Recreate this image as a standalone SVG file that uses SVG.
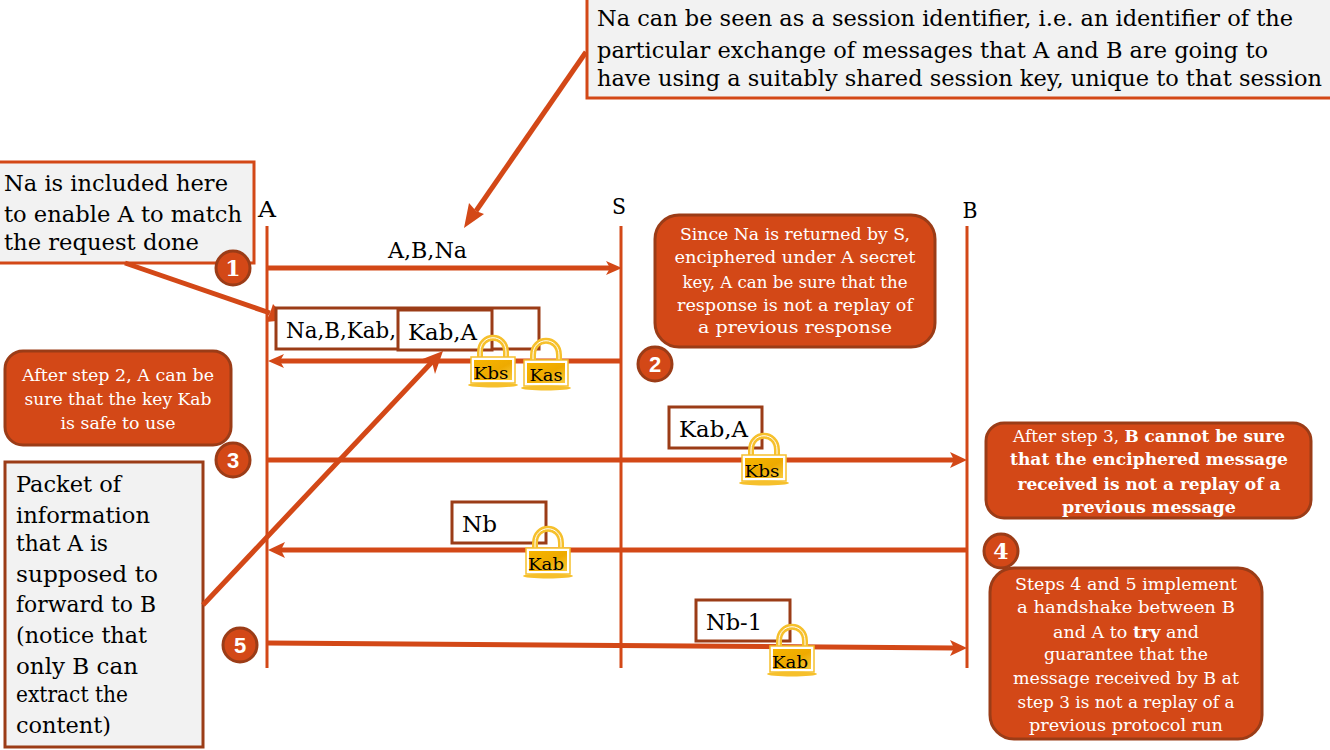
<svg xmlns="http://www.w3.org/2000/svg" width="1330" height="750" viewBox="0 0 1330 750">
<style>
text{font-family:"DejaVu Serif","Liberation Serif",serif;fill:#000}
.g{fill:#f2f2f2;stroke:#d34817;stroke-width:3}
.gd{fill:#f2f2f2;stroke:#9b3c17;stroke-width:3}
.o{fill:#d34817;stroke:#9b3c17;stroke-width:3}
.w{fill:#fff;font-size:17.5px;text-anchor:middle}
.b{font-weight:bold}
.t{font-size:22.5px}
.m{font-size:22px}
.n{fill:#fff;font-size:22px;text-anchor:middle;font-weight:bold}
.s{font-family:"Liberation Sans",sans-serif}
.pk{fill:#fff;stroke:#9b3c17;stroke-width:3}
.l{stroke:#d34817;stroke-width:3;fill:none}
.a{stroke:#d34817;stroke-width:5;fill:none}
.k{font-size:17px;text-anchor:middle}
.h{fill:#d34817}
</style>
<defs>
<linearGradient id="gold" x1="0" y1="0" x2="1" y2="1">
<stop offset="0" stop-color="#f7b500"/><stop offset="0.55" stop-color="#eeaa00"/><stop offset="1" stop-color="#f9c93a"/>
</linearGradient>
<g id="lock">
<path d="M-13 0V-10C-13 -29 13 -29 13 -10V0" fill="none" stroke="#f6c02c" stroke-width="6"/>
<path d="M-13 0V-10C-13 -29 13 -29 13 -10V0" fill="none" stroke="#fff" stroke-width="1"/>
<rect x="-22" y="-5" width="44" height="26" fill="#fff" stroke="#f6c02c" stroke-width="1.5"/>
<rect x="-19" y="-2" width="38" height="20" fill="url(#gold)"/>
<ellipse cx="0" cy="23" rx="25" ry="2.5" fill="#f6c02c"/>
</g>
</defs>
<g id="lifelines">
<line class="l" x1="267" y1="226" x2="267" y2="668"/>
<line class="l" x1="621" y1="226" x2="621" y2="668"/>
<line class="l" x1="967" y1="226" x2="967" y2="668"/>
</g>
<g id="actors">
<text x="267" y="217" font-size="23" text-anchor="middle" textLength="18" lengthAdjust="spacingAndGlyphs">A</text>
<text x="619" y="214" font-size="23" text-anchor="middle" textLength="14" lengthAdjust="spacingAndGlyphs">S</text>
<text x="970" y="218" font-size="23" text-anchor="middle" textLength="15" lengthAdjust="spacingAndGlyphs">B</text>
</g>
<g id="note-session">
<rect class="g" x="587" y="-3" width="745" height="101"/>
<text class="t" x="597" y="26" textLength="696" lengthAdjust="spacingAndGlyphs">Na can be seen as a session identifier, i.e. an identifier of the</text>
<text class="t" x="597" y="58" textLength="671" lengthAdjust="spacingAndGlyphs">particular exchange of messages that A and B are going to</text>
<text class="t" x="597" y="86" textLength="725" lengthAdjust="spacingAndGlyphs">have using a suitably shared session key, unique to that session</text>
</g>
<g id="note-na">
<rect class="g" x="-3" y="162" width="257" height="101"/>
<text class="t" x="4" y="191" textLength="224" lengthAdjust="spacingAndGlyphs">Na is included here</text>
<text class="t" x="4" y="222" textLength="238" lengthAdjust="spacingAndGlyphs">to enable A to match</text>
<text class="t" x="4" y="250" textLength="195" lengthAdjust="spacingAndGlyphs">the request done</text>
</g>
<g id="note-packet">
<rect class="gd" x="5" y="462" width="198" height="285"/>
<text class="t" x="16" y="492" textLength="105" lengthAdjust="spacingAndGlyphs">Packet of</text>
<text class="t" x="16" y="523" textLength="134" lengthAdjust="spacingAndGlyphs">information</text>
<text class="t" x="16" y="551" textLength="92" lengthAdjust="spacingAndGlyphs">that A is</text>
<text class="t" x="16" y="582" textLength="142" lengthAdjust="spacingAndGlyphs">supposed to</text>
<text class="t" x="16" y="612" textLength="140" lengthAdjust="spacingAndGlyphs">forward to B</text>
<text class="t" x="16" y="643" textLength="131" lengthAdjust="spacingAndGlyphs">(notice that</text>
<text class="t" x="16" y="674" textLength="122" lengthAdjust="spacingAndGlyphs">only B can</text>
<text class="t" x="16" y="702" textLength="112" lengthAdjust="spacingAndGlyphs">extract the</text>
<text class="t" x="16" y="733" textLength="95" lengthAdjust="spacingAndGlyphs">content)</text>
</g>
<g id="connectors">
<path class="a" d="M586 52L476 211"/><polygon class="h" points="464,228 469,203 476,211 484,214"/>
<path class="a" d="M125 263L270 313"/><polygon class="h" points="287,320 266,322 270,313 273,304"/>
<path class="a" d="M203 605L432 362"/><polygon class="h" points="443,351 435,374 432,362 420,360"/>
<path class="a" d="M268 268H612"/><polygon class="h" points="622,268 606,261 610,268 606,275"/>
<path class="a" d="M622 361H280"/><polygon class="h" points="268,361 284,354 280,361 284,368"/>
<path class="a" d="M268 460H954"/><polygon class="h" points="967,460 950,452 954,460 950,468"/>
<path class="a" d="M967 550H280"/><polygon class="h" points="268,550 285,542 281,550 285,558"/>
<path class="a" d="M268 643L954 648"/><polygon class="h" points="967,648 950,640 954,648 950,656"/>
</g>
<g id="packet-2">
<rect class="pk" x="276" y="308" width="263" height="41"/>
<text class="m" x="286" y="338" textLength="110" lengthAdjust="spacingAndGlyphs">Na,B,Kab,</text>
<rect class="pk" x="398" y="310" width="94" height="40"/>
<text class="m" x="408" y="340" textLength="69" lengthAdjust="spacingAndGlyphs">Kab,A</text>
<use href="#lock" x="493" y="362"/>
<text class="k" x="491" y="379" textLength="35" lengthAdjust="spacingAndGlyphs">Kbs</text>
<use href="#lock" x="546" y="365"/>
<text class="k" x="546" y="381" textLength="33" lengthAdjust="spacingAndGlyphs">Kas</text>
</g>
<g id="packet-3">
<rect class="pk" x="669" y="407" width="93" height="41"/>
<text class="m" x="679" y="437" textLength="69" lengthAdjust="spacingAndGlyphs">Kab,A</text>
<use href="#lock" x="764" y="460"/>
<text class="k" x="762" y="477" textLength="35" lengthAdjust="spacingAndGlyphs">Kbs</text>
</g>
<g id="packet-4">
<rect class="pk" x="452" y="502" width="94" height="41"/>
<text class="m" x="462" y="532" textLength="35" lengthAdjust="spacingAndGlyphs">Nb</text>
<use href="#lock" x="548" y="553"/>
<text class="k" x="546" y="570" textLength="36" lengthAdjust="spacingAndGlyphs">Kab</text>
</g>
<g id="packet-5">
<rect class="pk" x="696" y="600" width="94" height="41"/>
<text class="m" x="706" y="630" textLength="56" lengthAdjust="spacingAndGlyphs">Nb-1</text>
<use href="#lock" x="792" y="651"/>
<text class="k" x="790" y="668" textLength="36" lengthAdjust="spacingAndGlyphs">Kab</text>
</g>
<g id="label-1"><text class="m" x="388" y="258" textLength="79" lengthAdjust="spacingAndGlyphs">A,B,Na</text></g>
<g id="step-1"><circle class="o" cx="233" cy="268" r="17"/><text class="n" x="233" y="276">1</text></g>
<g id="step-2"><circle class="o" cx="655" cy="364" r="17"/><text class="n s" x="655" y="372">2</text></g>
<g id="step-3"><circle class="o" cx="233" cy="460" r="17"/><text class="n s" x="233" y="468">3</text></g>
<g id="step-4"><circle class="o" cx="1001" cy="551" r="17"/><text class="n" x="1001" y="559">4</text></g>
<g id="step-5"><circle class="o" cx="240" cy="645" r="17"/><text class="n s" x="240" y="653">5</text></g>
<g id="note-2">
<rect class="o" x="655" y="215" width="280" height="132" rx="24"/>
<text class="w" x="795" y="240" textLength="230" lengthAdjust="spacingAndGlyphs">Since Na is returned by S,</text>
<text class="w" x="795" y="263" textLength="241" lengthAdjust="spacingAndGlyphs">enciphered under A secret</text>
<text class="w" x="795" y="288" textLength="225" lengthAdjust="spacingAndGlyphs">key, A can be sure that the</text>
<text class="w" x="795" y="311" textLength="236" lengthAdjust="spacingAndGlyphs">response is not a replay of</text>
<text class="w" x="795" y="333" textLength="194" lengthAdjust="spacingAndGlyphs">a previous response</text>
</g>
<g id="note-3">
<rect class="o" x="5" y="351" width="226" height="94" rx="18"/>
<text class="w" x="118" y="381" textLength="192" lengthAdjust="spacingAndGlyphs">After step 2, A can be</text>
<text class="w" x="118" y="405" textLength="187" lengthAdjust="spacingAndGlyphs">sure that the key Kab</text>
<text class="w" x="118" y="429" textLength="115" lengthAdjust="spacingAndGlyphs">is safe to use</text>
</g>
<g id="note-4">
<rect class="o" x="986" y="423" width="325" height="95" rx="18"/>
<text class="w" x="1149" y="442" textLength="272" lengthAdjust="spacingAndGlyphs">After step 3, <tspan class="b">B cannot be sure</tspan></text>
<text class="w b" x="1149" y="465" textLength="278" lengthAdjust="spacingAndGlyphs">that the enciphered message</text>
<text class="w b" x="1149" y="490" textLength="263" lengthAdjust="spacingAndGlyphs">received is not a replay of a</text>
<text class="w b" x="1149" y="513" textLength="174" lengthAdjust="spacingAndGlyphs">previous message</text>
</g>
<g id="note-5">
<rect class="o" x="990" y="568" width="272" height="171" rx="24"/>
<text class="w" x="1126" y="590" textLength="222" lengthAdjust="spacingAndGlyphs">Steps 4 and 5 implement</text>
<text class="w" x="1126" y="613" textLength="218" lengthAdjust="spacingAndGlyphs">a handshake between B</text>
<text class="w" x="1126" y="638" font-size="16">and A to <tspan class="b">try</tspan> and</text>
<text class="w" x="1126" y="660" textLength="164" lengthAdjust="spacingAndGlyphs">guarantee that the</text>
<text class="w" x="1126" y="684" textLength="226" lengthAdjust="spacingAndGlyphs">message received by B at</text>
<text class="w" x="1126" y="708" textLength="217" lengthAdjust="spacingAndGlyphs">step 3 is not a replay of a</text>
<text class="w" x="1126" y="731" textLength="194" lengthAdjust="spacingAndGlyphs">previous protocol run</text>
</g>
</svg>
